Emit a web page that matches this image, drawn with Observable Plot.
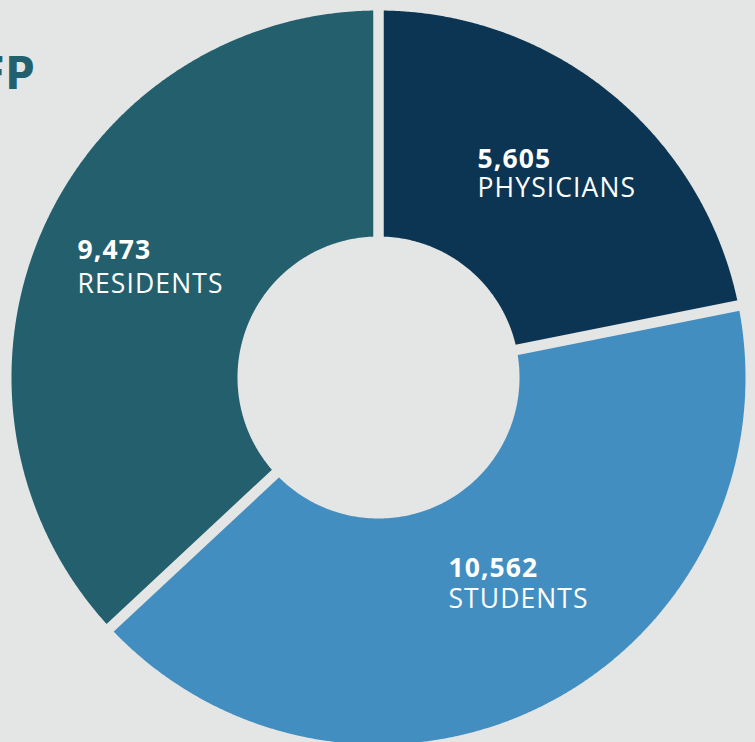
<!DOCTYPE html>
<html>
<head>
<meta charset="utf-8">
<script src="https://cdn.jsdelivr.net/npm/d3@7"></script>
<script src="https://cdn.jsdelivr.net/npm/@observablehq/plot@0.6"></script>
<style>
  html, body { margin: 0; padding: 0; background: #e4e6e5; overflow: hidden; }
</style>
</head>
<body>
<div id="chart"></div>
<script>
// ---- data ----
const categories = ["PHYSICIANS", "STUDENTS", "RESIDENTS"];
const values = [5605, 10562, 9473];
const colors = ["#0b3552", "#438ec0", "#245f6e"];
const heading = "AAFP";

// ---- layout (pixels) ----
const W = 755, H = 742;
const cx = 378, cy = 377;      // donut centre in pixels
const R = 367, r0 = 141;       // outer / inner radius
const bg = "#e4e6e5";
// label offsets relative to slice centroid (layout only)
const labelOffset = {
  PHYSICIANS: {dx: -62, dyNum: -13, dyLab: 16},
  STUDENTS:   {dx: -46, dyNum: -27, dyLab: 4},
  RESIDENTS:  {dx: -68, dyNum: -17, dyLab: 17}
};

const total = d3.sum(values);
let acc = 0;
const slices = categories.map((name, i) => {
  const a0 = acc / total * 2 * Math.PI;
  acc += values[i];
  const a1 = acc / total * 2 * Math.PI;
  return {name, value: values[i], a0, a1};
});

// sector polygons (angle measured clockwise from 12 o'clock)
const pts = [];
for (const s of slices) {
  pts.push({name: s.name, x: 0, y: 0});
  const n = Math.max(2, Math.ceil((s.a1 - s.a0) / (Math.PI / 720)));
  for (let k = 0; k <= n; k++) {
    const a = s.a0 + (s.a1 - s.a0) * k / n;
    pts.push({name: s.name, x: R * Math.sin(a), y: R * Math.cos(a)});
  }
  pts.push({name: s.name, x: 0, y: 0});
}
// inner hole
const hole = d3.range(0, 721).map(k => {
  const a = k / 720 * 2 * Math.PI;
  return {x: r0 * Math.sin(a), y: r0 * Math.cos(a)};
});
// gaps along slice boundaries
const gaps = slices.map(s => ({x1: 0, y1: 0, x2: (R + 8) * Math.sin(s.a0), y2: (R + 8) * Math.cos(s.a0)}));

// labels at slice centroids
const rc = (R + r0) / 2;
const fmt = d3.format(",");
const lab = slices.map(s => {
  const am = (s.a0 + s.a1) / 2;
  const o = labelOffset[s.name];
  return {name: s.name, num: fmt(s.value), x: rc * Math.sin(am), y: rc * Math.cos(am), ...o};
});

const chart = Plot.plot({
  width: W,
  height: H,
  margin: 0,
  style: {background: bg, overflow: "hidden"},
  x: {domain: [-cx, W - cx], axis: null},
  y: {domain: [cy - H, cy], axis: null},
  color: {domain: categories, range: colors},
  marks: [
    Plot.line(pts, {x: "x", y: "y", z: "name", fill: "name", stroke: "none"}),
    Plot.link(gaps, {x1: "x1", y1: "y1", x2: "x2", y2: "y2", stroke: bg, strokeWidth: 10.5}),
    Plot.line(hole, {x: "x", y: "y", fill: bg, stroke: "none"}),
    ...lab.map(d => Plot.text([d], {
      x: "x", y: "y", text: "num", dx: d.dx, dy: d.dyNum,
      textAnchor: "start", lineAnchor: "bottom", fill: "white",
      fontFamily: "Open Sans", fontWeight: "bold", fontSize: 26.5
    })),
    ...lab.map(d => Plot.text([d], {
      x: "x", y: "y", text: "name", dx: d.dx, dy: d.dyLab,
      textAnchor: "start", lineAnchor: "bottom", fill: "white",
      fontFamily: "Open Sans", fontWeight: "normal", fontSize: 26.5
    })),
    Plot.text([heading], {
      frameAnchor: "top-left", text: d => d, dx: 34, dy: 88,
      textAnchor: "end", lineAnchor: "bottom", fill: "#23606e",
      fontFamily: "DejaVu Sans Condensed, Liberation Sans Narrow, sans-serif",
      fontWeight: "bold", fontSize: 44
    })
  ]
});
// label letter spacing and condensed heading
d3.select(chart).selectAll('g[fill="white"]').attr("letter-spacing", "1.1px");
d3.select(chart).selectAll('g[fill="#23606e"]').style("font-stretch", "condensed");
document.getElementById("chart").append(chart);
</script>
</body>
</html>
